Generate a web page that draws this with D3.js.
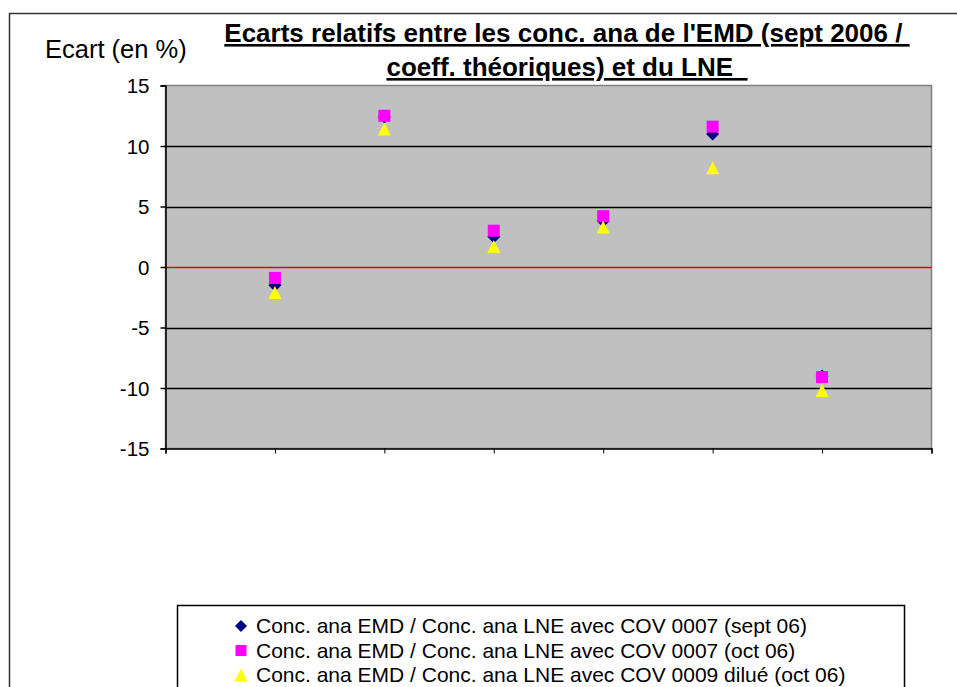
<!DOCTYPE html>
<html><head><meta charset="utf-8">
<script src="https://cdn.jsdelivr.net/npm/d3@7"></script>
<style>html,body{margin:0;padding:0;background:#fff;}svg{display:block;}</style>
</head><body>
<script>
const xPositions = [1, 2, 3, 4, 5, 6];
const seriesNames = [
  "Conc. ana EMD / Conc. ana LNE avec COV 0007 (sept 06)",
  "Conc. ana EMD / Conc. ana LNE avec COV 0007 (oct 06)",
  "Conc. ana EMD / Conc. ana LNE avec COV 0009 dilué (oct 06)"
];
const sept0007 = [-1.5, 12.4, 2.5, 3.8, 11.0, -9.0];
const oct0007 = [-0.9, 12.5, 3.0, 4.2, 11.6, -9.1];
const oct0009 = [-2.1, 11.4, 1.7, 3.3, 8.2, -10.2];
const yTicks = [-15, -10, -5, 0, 5, 10, 15];
const titleLines = ["Ecarts relatifs entre les conc. ana de l'EMD (sept 2006 / ", "coeff. théoriques) et du LNE  "];
const yAxisTitle = "Ecart (en %)";

const W = 957, H = 687;
const svg = d3.select("body").append("svg").attr("width", W).attr("height", H);
const font = "Arial, 'Liberation Sans', sans-serif";

// outer border
svg.append("rect").attr("x", 9.5).attr("y", 13.5).attr("width", 970).attr("height", 700)
  .attr("fill", "#fff").attr("stroke", "#333").attr("stroke-width", 1.5);

const L = 165.5, R = 931.5, T = 85.5, B = 448.5;
const x = d3.scaleLinear().domain([0, 7]).range([L, R]);
const y = d3.scaleLinear().domain([-15, 15]).range([B, T]);

// plot area
svg.append("rect").attr("x", L).attr("y", T).attr("width", R - L).attr("height", B - T)
  .attr("fill", "#C0C0C0").attr("stroke", "#808080").attr("stroke-width", 1.5);

// gridlines
svg.append("g").selectAll("line").data(yTicks.filter(v => v !== 0 && v !== 15 && v !== -15)).join("line")
  .attr("x1", L).attr("x2", R).attr("y1", d => Math.round(y(d)) + 0.5).attr("y2", d => Math.round(y(d)) + 0.5)
  .attr("stroke", "#000").attr("stroke-width", 1.5);
svg.append("line").attr("x1", L).attr("x2", R).attr("y1", Math.round(y(0)) + 0.5).attr("y2", Math.round(y(0)) + 0.5)
  .attr("stroke", "#E00000").attr("stroke-width", 1.5);

// y axis
const yAxis = d3.axisLeft(y).tickValues(yTicks).tickSize(5).tickPadding(11).tickFormat(d => String(d));
const gy = svg.append("g").attr("transform", `translate(${L},0)`).call(yAxis);
gy.select(".domain").attr("stroke", "#000").attr("stroke-width", 1.5);
gy.selectAll(".tick line").attr("stroke", "#000").attr("stroke-width", 1.5);
gy.selectAll(".tick text").attr("font-family", font).attr("font-size", 20.5).attr("fill", "#000").attr("dy", "0.35em");

// x axis
const xAxis = d3.axisBottom(x).tickValues(d3.range(0, 8)).tickSize(5).tickFormat("");
const gx = svg.append("g").attr("transform", `translate(0,${B})`).call(xAxis);
gx.select(".domain").attr("stroke", "#000").attr("stroke-width", 1.5);
gx.selectAll(".tick line").attr("stroke", "#000").attr("stroke-width", 1);

// markers
function drawDiamond(g, cx, cy, s) {
  g.append("path").attr("d", `M${cx},${cy - s}L${cx + s},${cy}L${cx},${cy + s}L${cx - s},${cy}Z`).attr("fill", "#000080");
}
function drawSquare(g, cx, cy, s) {
  g.append("rect").attr("x", cx - s).attr("y", cy - s).attr("width", 2 * s).attr("height", 2 * s).attr("fill", "#FF00FF");
}
function drawTri(g, cx, cy, s) {
  g.append("path").attr("d", `M${cx},${cy - s}L${cx + s},${cy + s}L${cx - s},${cy + s}Z`).attr("fill", "#FFFF00");
}
const gm = svg.append("g");
xPositions.forEach((xv, i) => drawDiamond(gm, x(xv), y(sept0007[i]), 6.5));
xPositions.forEach((xv, i) => drawSquare(gm, x(xv), y(oct0007[i]), 6));
xPositions.forEach((xv, i) => drawTri(gm, x(xv), y(oct0009[i]), 6.5));

// title
const tg = svg.append("g").attr("font-family", font).attr("font-weight", "bold").attr("font-size", 26)
  .attr("text-decoration", "underline").attr("fill", "#000");
titleLines.forEach((t, i) => {
  tg.append("text").attr("x", 567).attr("y", 42 + i * 34).attr("text-anchor", "middle")
    .attr("xml:space", "preserve").style("white-space", "pre").text(t);
});

// y axis title
svg.append("text").attr("x", 45).attr("y", 58).attr("font-family", font).attr("font-size", 25.5)
  .attr("fill", "#000").text(yAxisTitle);

// legend
const lg = svg.append("g");
lg.append("rect").attr("x", 177.5).attr("y", 605.5).attr("width", 727).attr("height", 120)
  .attr("fill", "#fff").attr("stroke", "#000").attr("stroke-width", 1.5);
const drawers = [drawDiamond, drawSquare, drawTri];
const sizes = [6, 5.5, 6.5];
seriesNames.forEach((n, i) => {
  const cy = 626 + i * 24.5;
  drawers[i](lg, 241, cy, sizes[i]);
  lg.append("text").attr("x", 256).attr("y", cy).attr("dy", "0.35em").attr("font-family", font)
    .attr("font-size", 21).attr("fill", "#000").text(n);
});
</script>
</body></html>
